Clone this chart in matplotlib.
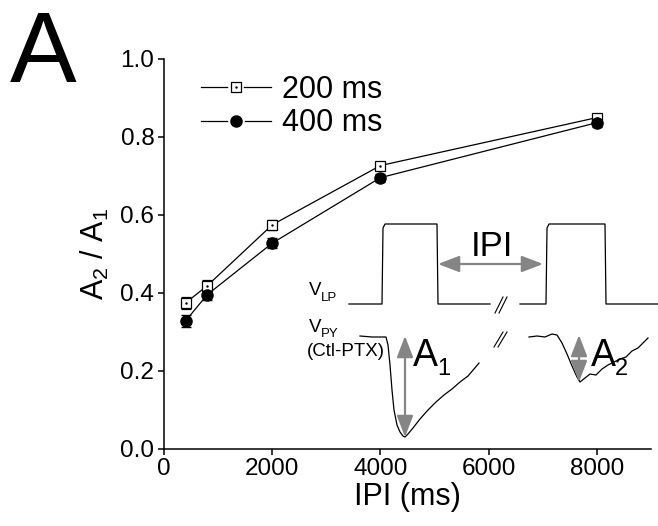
import matplotlib
matplotlib.use("Agg")
import matplotlib.pyplot as plt
from matplotlib.legend_handler import HandlerTuple
from matplotlib.lines import Line2D

plt.rcParams['font.family'] = ['Liberation Sans', 'DejaVu Sans']
plt.rcParams['mathtext.fontset'] = 'custom'
plt.rcParams['mathtext.rm'] = 'Liberation Sans'
plt.rcParams['mathtext.it'] = 'Liberation Sans'

# ---- data ----
ipi = [400, 800, 2000, 4000, 8000]
ratio_200 = [0.374, 0.418, 0.574, 0.726, 0.849]
err_200 = [0.016, 0.014, 0.012, 0.010, 0.008]
ratio_400 = [0.328, 0.395, 0.527, 0.695, 0.836]
err_400 = [0.016, 0.013, 0.012, 0.010, 0.010]
xticks = [0, 2000, 4000, 6000, 8000]
yticks = [0.0, 0.2, 0.4, 0.6, 0.8, 1.0]

# inset schematic traces (figure pixel coordinates, y downward)
vlp1_x = [349, 382, 383, 385, 437, 438, 490]
vlp1_y = [304, 304, 228, 224, 224, 304, 304]
vlp2_x = [520, 546, 547, 549, 605, 606, 658]
vlp2_y = [304, 304, 228, 224, 224, 304, 304]
vpy1_x = [360, 372, 386, 388, 390, 392, 394, 397, 400, 403, 405, 408, 413, 420, 428, 436, 444, 452, 460, 468, 474, 479]
vpy1_y = [336, 337, 337, 345, 365, 390, 410, 425, 432, 436, 437, 434, 428, 419, 410, 402, 395, 389, 382, 376, 369, 363]
vpy2_x = [529, 537, 545, 552, 557, 562, 567, 572, 577, 580, 585, 590, 596, 602, 608, 614, 620, 626, 632, 638, 643, 648]
vpy2_y = [337, 336, 337, 334, 335, 343, 354, 366, 377, 382, 378, 374, 375, 369, 365, 362, 359, 357, 351, 348, 343, 338]

fig = plt.figure(figsize=(6.58, 5.26), dpi=100)
ax = fig.add_axes([164/658, 1-448.7/526, (651-164)/658, (448.7-58.7)/526])

ax.errorbar(ipi, ratio_200, yerr=err_200, color='black', lw=0.9, marker='s',
            ms=6.5, mfc='white', mec='black', mew=0.9, capsize=3.5, elinewidth=0.9, zorder=3)
ax.plot(ipi, ratio_200, ls='none', marker='.', ms=1.5, color='black', zorder=4)
ax.errorbar(ipi, ratio_400, yerr=err_400, color='black', lw=0.9, marker='o',
            ms=8, mfc='black', mec='black', capsize=3.5, elinewidth=0.9, zorder=3)

ax.set_xlim(0, 9000)
ax.set_ylim(0, 1.0)
ax.set_xticks(xticks)
ax.set_yticks(yticks)
ax.set_yticklabels([f"{v:.1f}" for v in yticks])
ax.spines['top'].set_visible(False)
ax.spines['right'].set_visible(False)
for s in ['left', 'bottom']:
    ax.spines[s].set_linewidth(1.1)
ax.tick_params(direction='out', length=4, width=1.1, labelsize=17.5, pad=3)
ax.set_xlabel('IPI (ms)', fontsize=22, labelpad=1)
ax.set_ylabel(r'A$_2$ / A$_1$', fontsize=22, labelpad=7)

h1 = (Line2D([], [], color='black', lw=0.9),
      Line2D([], [], ls='none', marker='s', ms=6.5, mfc='white', mec='white', mew=4),
      Line2D([], [], ls='none', marker='s', ms=6.5, mfc='white', mec='black', mew=0.9),
      Line2D([], [], ls='none', marker='.', ms=1.5, color='black'))
h2 = (Line2D([], [], color='black', lw=0.9),
      Line2D([], [], ls='none', marker='o', ms=8, mfc='white', mec='white', mew=4),
      Line2D([], [], ls='none', marker='o', ms=8, mfc='black', mec='black'))
ax.legend([h1, h2], ['200 ms', '400 ms'], handler_map={tuple: HandlerTuple(ndivide=1, pad=0)},
          loc='upper left', bbox_to_anchor=(0.05, 0.99), frameon=False, fontsize=22,
          handlelength=2.3, handletextpad=0.35, labelspacing=0.12, borderaxespad=0)

fig.text(10/658, 1-81.7/526, 'A', fontsize=72, ha='left', va='baseline')

# ---- inset overlay ----
ov = fig.add_axes([0, 0, 1, 1], facecolor='none')
ov.set_xlim(0, 658)
ov.set_ylim(526, 0)
ov.axis('off')

for xs, ys in [(vlp1_x, vlp1_y), (vlp2_x, vlp2_y), (vpy1_x, vpy1_y), (vpy2_x, vpy2_y)]:
    ov.plot(xs, ys, color='black', lw=0.9)

for (x0, y0, x1, y1) in [(495, 313, 503, 297), (499, 313, 507, 297),
                         (494, 347, 503, 332), (498, 347, 507, 332)]:
    ov.plot([x0, x1], [y0, y1], color='black', lw=0.8)

gray = '#858585'
astyle = dict(arrowstyle='<|-|>,head_length=0.65,head_width=0.25', color=gray, lw=1.6,
              mutation_scale=20, shrinkA=0, shrinkB=0)
ov.annotate('', xy=(438, 264), xytext=(543, 264), arrowprops=astyle)
ov.annotate('', xy=(405, 336), xytext=(405, 437), arrowprops=astyle)
ov.annotate('', xy=(579, 335), xytext=(579, 382), arrowprops=astyle)

ov.text(471, 256, 'IPI', fontsize=25, ha='left', va='baseline')
ov.text(413, 366, 'A', fontsize=27, ha='left', va='baseline')
ov.text(437, 375, '1', fontsize=17, ha='left', va='baseline')
ov.text(591, 366, 'A', fontsize=27, ha='left', va='baseline')
ov.text(615, 375, '2', fontsize=17, ha='left', va='baseline')
ov.text(309, 295, 'V', fontsize=13.5, ha='left', va='baseline')
ov.text(321, 301, 'LP', fontsize=9.5, ha='left', va='baseline')
ov.text(309, 332, 'V', fontsize=13.5, ha='left', va='baseline')
ov.text(321, 337, 'PY', fontsize=9.5, ha='left', va='baseline')
ov.text(307, 356, '(Ctl-PTX)', fontsize=13.5, ha='left', va='baseline')

fig.savefig('out.png', dpi=100)
